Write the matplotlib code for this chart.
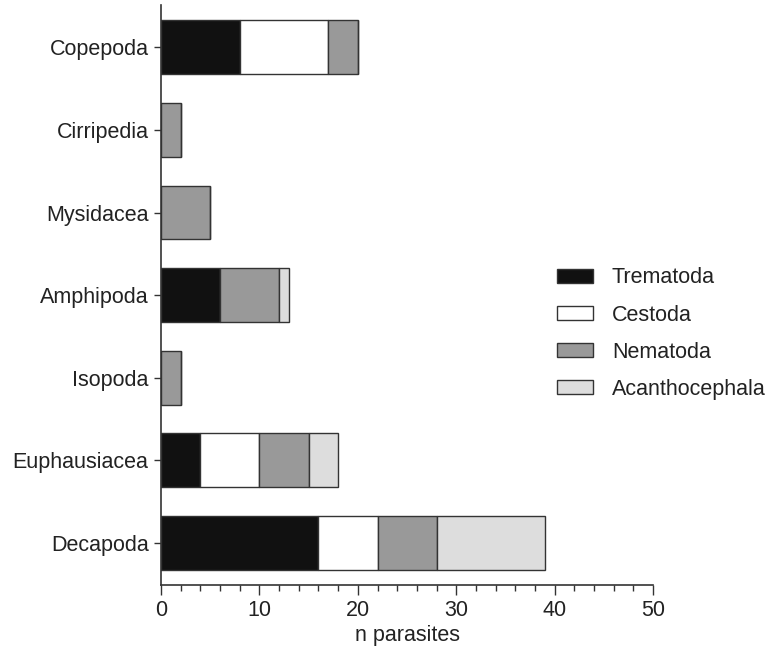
import matplotlib
matplotlib.use("Agg")
import matplotlib.pyplot as plt
import numpy as np

categories = ["Decapoda", "Euphausiacea", "Isopoda", "Amphipoda", "Mysidacea", "Cirripedia", "Copepoda"]
trematoda = [16, 4, 0, 6, 0, 0, 8]
cestoda = [6, 6, 0, 0, 0, 0, 9]
nematoda = [6, 5, 2, 6, 5, 2, 3]
acanthocephala = [11, 3, 0, 1, 0, 0, 0]
series_names = ["Trematoda", "Cestoda", "Nematoda", "Acanthocephala"]
colors = ["#111111", "#ffffff", "#999999", "#dddddd"]

plt.rcParams['font.family'] = ['Liberation Sans', 'DejaVu Sans']
FS = 15.5
fig = plt.figure(figsize=(7.79, 6.49), dpi=100)
ax = fig.add_axes([0.2067, 0.0986, 0.6316, 0.8934])

y = np.arange(len(categories))
left = np.zeros(len(categories))
handles = []
for name, vals, c in zip(series_names, [trematoda, cestoda, nematoda, acanthocephala], colors):
    vals = np.array(vals, dtype=float)
    h = ax.barh(y, vals, left=left, height=0.65, color=c, edgecolor="#333333", linewidth=1.0, label=name)
    handles.append(h)
    left += vals

ax.set_yticks(y)
ax.set_yticklabels(categories, fontsize=FS, color="#222222")
ax.set_ylim(-0.51, 6.51)
ax.set_xlim(0, 50)
ax.set_xticks([0, 10, 20, 30, 40, 50])
ax.set_xticks(np.arange(0, 51, 2), minor=True)
ax.tick_params(axis='x', labelsize=FS, length=7, width=1, color="#333333", labelcolor="#222222")
ax.tick_params(axis='x', which='minor', length=4, width=1, color="#333333")
ax.tick_params(axis='y', length=5, width=1, color="#333333", pad=4)
ax.set_xlabel("n parasites", fontsize=FS, labelpad=3, color="#222222")
for s in ["top", "right"]:
    ax.spines[s].set_visible(False)
for s in ["left", "bottom"]:
    ax.spines[s].set_linewidth(1.2)
    ax.spines[s].set_color("#333333")

leg = fig.legend(handles=handles, labels=series_names, loc="center left", bbox_to_anchor=(0.715, 0.486),
                 frameon=False, fontsize=FS, handlelength=1.67, handleheight=0.62, labelspacing=0.75,
                 handletextpad=0.88, borderpad=0, borderaxespad=0)
for t in leg.get_texts():
    t.set_color("#222222")

fig.savefig("out.png", dpi=100)
